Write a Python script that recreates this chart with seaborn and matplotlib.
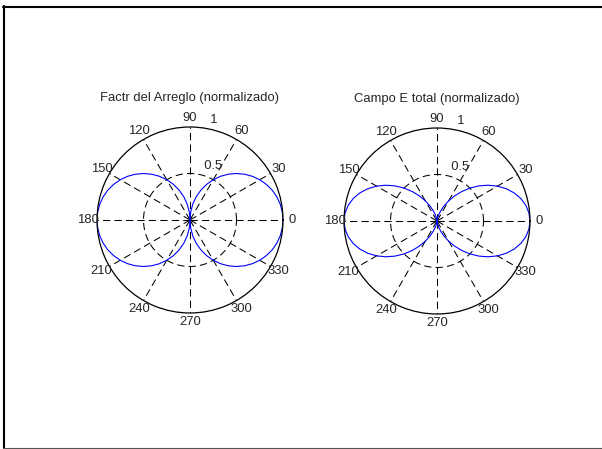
import numpy as np
import matplotlib
matplotlib.use("Agg")
import matplotlib.pyplot as plt
from matplotlib.lines import Line2D
import seaborn as sns

sns.set_style("white")
plt.rcParams['font.family'] = ['Liberation Sans', 'DejaVu Sans']

# sample angles (degrees) and normalized patterns
theta_deg = list(range(0, 361, 5))

factor_arreglo = [
    1.000, 0.996, 0.985, 0.966, 0.940, 0.906, 0.866, 0.819, 0.766, 0.707,
    0.643, 0.574, 0.500, 0.423, 0.342, 0.259, 0.174, 0.087, 0.000,
    0.087, 0.174, 0.259, 0.342, 0.423, 0.500, 0.574, 0.643, 0.707, 0.766,
    0.819, 0.866, 0.906, 0.940, 0.966, 0.985, 0.996, 1.000,
    0.996, 0.985, 0.966, 0.940, 0.906, 0.866, 0.819, 0.766, 0.707, 0.643,
    0.574, 0.500, 0.423, 0.342, 0.259, 0.174, 0.087, 0.000,
    0.087, 0.174, 0.259, 0.342, 0.423, 0.500, 0.574, 0.643, 0.707, 0.766,
    0.819, 0.866, 0.906, 0.940, 0.966, 0.985, 0.996, 1.000,
]

campo_total = [
    1.000, 0.992, 0.970, 0.933, 0.883, 0.821, 0.750, 0.671, 0.587, 0.500,
    0.413, 0.329, 0.250, 0.179, 0.117, 0.067, 0.030, 0.008, 0.000,
    0.008, 0.030, 0.067, 0.117, 0.179, 0.250, 0.329, 0.413, 0.500, 0.587,
    0.671, 0.750, 0.821, 0.883, 0.933, 0.970, 0.992, 1.000,
    0.992, 0.970, 0.933, 0.883, 0.821, 0.750, 0.671, 0.587, 0.500, 0.413,
    0.329, 0.250, 0.179, 0.117, 0.067, 0.030, 0.008, 0.000,
    0.008, 0.030, 0.067, 0.117, 0.179, 0.250, 0.329, 0.413, 0.500, 0.587,
    0.671, 0.750, 0.821, 0.883, 0.933, 0.970, 0.992, 1.000,
]

titles = ['Factr del Arreglo (normalizado)', 'Campo E total (normalizado)']
angle_labels = [0, 30, 60, 90, 120, 150, 180, 210, 240, 270, 300, 330]
r_ticks = [0.5, 1]

W, H = 602, 449
fig = plt.figure(figsize=(W / 100, H / 100), dpi=100)
fig.patch.set_facecolor('white')

# axes centre (px) and radius
centers = [(190, 220), (437, 221)]
R = 93
fs = 9.4

for (cx, cy), title, r in zip(centers, titles, [factor_arreglo, campo_total]):
    ax = fig.add_axes([(cx - R) / W, (H - cy - R) / H, 2 * R / W, 2 * R / H],
                      projection='polar')
    ax.set_facecolor('white')
    sns.lineplot(x=np.deg2rad(theta_deg), y=r, ax=ax, sort=False,
                 estimator=None, color='#0000ff', lw=0.8)
    ax.set_rlim(0, 1)
    ax.set_thetagrids(angle_labels)
    ax.set_rgrids([0.5])
    ax.set_xticklabels([])
    ax.set_yticklabels([])
    ax.tick_params(length=0, pad=0)
    ax.grid(True, color='black', lw=0.75, linestyle=(0, (7, 4)))
    ax.spines['polar'].set_color('black')
    ax.spines['polar'].set_linewidth(0.9)
    ax.set_xlabel('')
    ax.set_ylabel('')

    for a in angle_labels:
        ax.text(np.deg2rad(a), 1.1, str(a), ha='center', va='center',
                fontsize=fs, clip_on=False)
    for rt in r_ticks:
        ax.text(np.deg2rad(82), rt + 0.025, '  ' + str(rt), ha='left',
                va='bottom', fontsize=fs, clip_on=False)
    ax.text(0.5, 1.0 + 29 / (2 * R), title, transform=ax.transAxes,
            ha='center', va='center', fontsize=fs)

# window frame
fig.add_artist(Line2D([4 / W, 4 / W], [0, 1 - 6 / H], transform=fig.transFigure,
                      color='black', lw=1.5))
fig.add_artist(Line2D([3 / W, 1], [1 - 7 / H, 1 - 7 / H], transform=fig.transFigure,
                      color='black', lw=1.5))
fig.add_artist(Line2D([3 / W, 1], [1.5 / H, 1.5 / H], transform=fig.transFigure,
                      color='#555555', lw=0.8))

fig.savefig('out.png', dpi=100)
